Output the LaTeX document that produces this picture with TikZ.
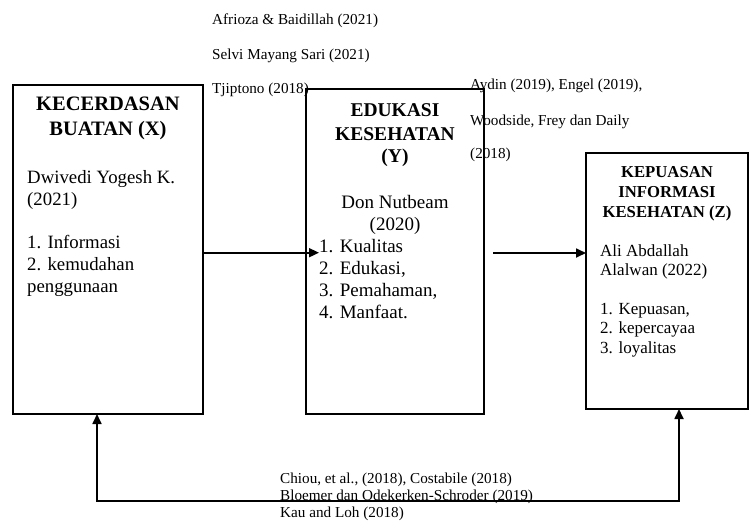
\documentclass[tikz,border=0pt]{standalone}
\usepackage{fontspec}
\setmainfont{Liberation Serif}
\usetikzlibrary{arrows.meta}

\begin{document}
\begin{tikzpicture}[x=1pt,y=-1pt,
  box/.style={draw,line width=1.1pt,anchor=north west,inner sep=0pt,outer sep=0pt},
  cite/.style={anchor=base west,inner sep=0pt,font=\fontsize{15.2}{17}\selectfont},
  head/.style={anchor=base,inner sep=0pt},
  body/.style={anchor=base west,inner sep=0pt},
  tip/.tip={Triangle[length=10pt,width=9pt]},
  arr/.style={line width=1.7pt,-tip}]
\useasboundingbox (0,0) rectangle (749,520);
\node[box,minimum width=190pt,minimum height=329pt](X) at (13,85){};
\node[box,minimum width=178pt,minimum height=325pt](Y) at (306,89){};
\node[box,minimum width=162pt,minimum height=256pt](Z) at (586,153){};
\foreach \t/\y[count=\i] in {Afrioza \& Baidillah (2021)/24,Selvi Mayang Sari (2021)/59,Tjiptono (2018)/93}
\node[cite](ra\i) at (212,\y){\t};
\foreach \t/\y[count=\i] in {{Aydin (2019), Engel (2019),}/89,{Woodside, Frey dan Daily}/125,(2018)/158}
\node[cite](rb\i) at (470,\y){\t};
\foreach \t/\y[count=\i] in {{Chiou, et al., (2018), Costabile (2018)}/483,Bloemer dan Odekerken-Schroder (2019)/500,Kau and Loh (2018)/517}
\node[cite](rc\i) at (280,\y){\t};
\foreach \t/\y[count=\i] in {KECERDASAN/110,BUATAN (X)/135}
\node[head,font=\bfseries\fontsize{20.5}{25}\selectfont](xh\i) at (X.north |- 0,\y){\t};
\foreach \t/\y[count=\i] in {Dwivedi Yogesh K./183,(2021)/205,1. Informasi/248,2. kemudahan/270,penggunaan/292}
\node[body,font=\fontsize{18.8}{22}\selectfont](xb\i) at (27,\y){\t};
\foreach \t/\y[count=\i] in {EDUKASI/116,KESEHATAN/140,(Y)/162}
\node[head,font=\bfseries\fontsize{19.5}{24}\selectfont](yh\i) at (Y.north |- 0,\y){\t};
\foreach \t/\y[count=\i] in {Don Nutbeam/208,(2020)/230}
\node[head,font=\fontsize{19}{22}\selectfont](yn\i) at (Y.north |- 0,\y){\t};
\foreach \t/\y[count=\i] in {1. Kualitas/252.7,{2. Edukasi,}/274.7,{3. Pemahaman,}/296.7,4. Manfaat./318.7}
\node[body,font=\fontsize{19}{22}\selectfont](yl\i) at (319,\y){\t};
\foreach \t/\y[count=\i] in {KEPUASAN/177,INFORMASI/197,KESEHATAN (Z)/217}
\node[head,font=\bfseries\fontsize{16.7}{20}\selectfont](zh\i) at (Z.north |- 0,\y){\t};
\foreach \t/\y[count=\i] in {Ali Abdallah/256,Alalwan (2022)/275.5,{1. Kepuasan,}/314,2. kepercayaa/333.5,3. loyalitas/353}
\node[body,font=\fontsize{17}{20}\selectfont](zb\i) at (600,\y){\t};
\coordinate (s) at (493,253);
\coordinate (bl) at (97,501);
\coordinate (br) at (679,501);
\draw[arr] (X.east |- yl1.base west) -- (yl1.base west);
\draw[arr] (s) -- (s -| Z.west);
\draw[arr,tip-tip] (X.south -| bl) -- (bl) -- (br) -- (Z.south -| br);
\end{tikzpicture}
\end{document}
